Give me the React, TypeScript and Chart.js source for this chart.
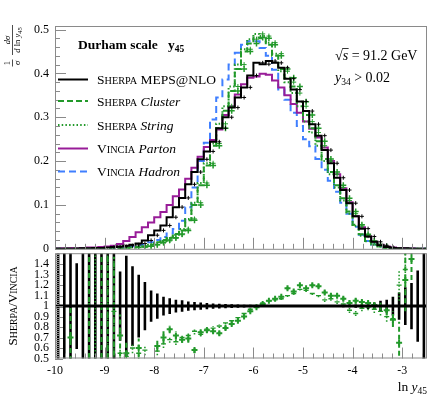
import React, { useEffect, useRef } from "react";
import { Chart, registerables } from "chart.js";

Chart.register(...registerables);

// ---------- axes ----------
const X_MIN = -10;
const X_MAX = -2.5;
const X_MINOR = 0.2;
const X_TICKS = [-10, -9, -8, -7, -6, -5, -4, -3];
const MAIN_Y_MAX = 0.508;
const MAIN_Y_TICKS = [0, 0.1, 0.2, 0.3, 0.4, 0.5];
const MAIN_Y_MINOR = 0.02;
const RATIO_MIN = 0.5;
const RATIO_MAX = 1.505;
const RATIO_Y_TICKS = [0.5, 0.6, 0.7, 0.8, 0.9, 1, 1.1, 1.2, 1.3, 1.4];
const RATIO_Y_MINOR = 0.02;
const RATIO_REF = 1;

// ---------- binning ----------
const BIN_LO = -10;
const BIN_W = 0.125;

// ---------- main panel: 1/sigma dsigma/dln y45 ----------
const sherpaMepsNlo = [
  0.000, 0.000, 0.000, 0.000, 0.000, 0.001, 0.001, 0.002, 0.002, 0.003,
  0.004, 0.005, 0.007, 0.009, 0.012, 0.019, 0.031, 0.042, 0.053, 0.072,
  0.095, 0.116, 0.147, 0.175, 0.204, 0.222, 0.244, 0.275, 0.300, 0.322,
  0.345, 0.368, 0.395, 0.424, 0.421, 0.428, 0.424, 0.413, 0.388, 0.363,
  0.336, 0.314, 0.284, 0.258, 0.225, 0.195, 0.162, 0.134, 0.104, 0.074,
  0.046, 0.028, 0.016, 0.008, 0.004, 0.002, 0.001, 0.001, 0.000, 0.000,
];
const sherpaCluster = [
  0.000, 0.000, 0.000, 0.000, 0.000, 0.000, 0.000, 0.000, 0.000, 0.000,
  0.001, 0.001, 0.002, 0.003, 0.004, 0.006, 0.009, 0.015, 0.020, 0.025,
  0.034, 0.042, 0.065, 0.100, 0.145, 0.190, 0.235, 0.275, 0.315, 0.360,
  0.410, 0.450, 0.468, 0.482, 0.480, 0.465, 0.440, 0.410, 0.390, 0.370,
  0.335, 0.305, 0.275, 0.245, 0.205, 0.175, 0.145, 0.115, 0.085, 0.055,
  0.033, 0.018, 0.010, 0.005, 0.002, 0.001, 0.000, 0.000, 0.000, 0.000,
];
const sherpaString = [
  0.000, 0.000, 0.000, 0.000, 0.000, 0.000, 0.000, 0.000, 0.000, 0.000,
  0.001, 0.001, 0.002, 0.003, 0.004, 0.006, 0.009, 0.013, 0.018, 0.024,
  0.032, 0.045, 0.068, 0.105, 0.150, 0.195, 0.240, 0.285, 0.325, 0.370,
  0.420, 0.455, 0.478, 0.490, 0.485, 0.470, 0.445, 0.405, 0.380, 0.355,
  0.325, 0.290, 0.265, 0.235, 0.200, 0.170, 0.140, 0.110, 0.080, 0.052,
  0.030, 0.017, 0.009, 0.005, 0.002, 0.001, 0.000, 0.000, 0.000, 0.000,
];
const vinciaParton = [
  0.001, 0.001, 0.001, 0.002, 0.002, 0.002, 0.003, 0.003, 0.004, 0.005,
  0.007, 0.011, 0.018, 0.027, 0.038, 0.049, 0.060, 0.072, 0.084, 0.100,
  0.120, 0.135, 0.160, 0.185, 0.210, 0.232, 0.248, 0.272, 0.305, 0.325,
  0.352, 0.375, 0.390, 0.393, 0.399, 0.397, 0.384, 0.368, 0.350, 0.330,
  0.310, 0.290, 0.274, 0.254, 0.231, 0.200, 0.170, 0.138, 0.106, 0.074,
  0.049, 0.028, 0.016, 0.009, 0.005, 0.003, 0.002, 0.001, 0.001, 0.000,
];
const vinciaHadron = [
  0.000, 0.000, 0.000, 0.000, 0.000, 0.001, 0.001, 0.001, 0.001, 0.002,
  0.002, 0.003, 0.004, 0.006, 0.008, 0.010, 0.015, 0.020, 0.027, 0.035,
  0.045, 0.064, 0.095, 0.140, 0.200, 0.242, 0.295, 0.345, 0.386, 0.420,
  0.447, 0.465, 0.473, 0.473, 0.458, 0.440, 0.408, 0.363, 0.340, 0.310,
  0.280, 0.250, 0.234, 0.205, 0.180, 0.155, 0.130, 0.105, 0.080, 0.050,
  0.032, 0.018, 0.010, 0.006, 0.003, 0.002, 0.001, 0.000, 0.000, 0.000,
];

// ---------- ratio panel: Sherpa / Vincia ----------
const ratioMepsErr = [
  0.7, 0.7, 0.7, 0.41, 0.7, 0.7, 0.7, 0.7, 0.7, 0.7,
  0.33, 0.48, 0.38, 0.30, 0.23, 0.15, 0.12, 0.09, 0.075, 0.06,
  0.055, 0.045, 0.04, 0.035, 0.03, 0.025, 0.022, 0.02, 0.017, 0.015,
  0.013, 0.012, 0.01, 0.008, 0.007, 0.006, 0.006, 0.006, 0.006, 0.006,
  0.006, 0.006, 0.006, 0.007, 0.007, 0.008, 0.01, 0.012, 0.015, 0.018,
  0.028, 0.035, 0.05, 0.06, 0.09, 0.13, 0.18, 0.22, 0.34, 0.7,
];
const ratioCluster = [
  null, null, 0.7, null, null, 1.0, null, 1.0, 1.0, 1.0,
  0.72, 0.55, null, 0.6, null, null, 0.62, 0.7, 0.78, 0.72,
  0.68, 0.69, 0.58, 0.75, 0.77, 0.76, 0.74, 0.79, 0.83, 0.86,
  0.9, 0.95, 0.99, 1.02, 1.05, 1.07, 1.09, 1.17, 1.14, 1.2,
  1.17, 1.2, 1.19, 1.13, 1.1, 1.1, 1.07, 1.03, 1.05, 1.04,
  1.03, 1.01, 1.0, 0.96, 0.87, 0.65, 1.25, 1.45, null, null,
];
const ratioClusterErr = [
  0, 0, 0.3, 0, 0, 0.8, 0, 0.8, 0.8, 0.47,
  0.2, 0.1, 0, 0.09, 0, 0, 0.05, 0.06, 0.04, 0.04,
  0.03, 0.04, 0.03, 0.03, 0.025, 0.02, 0.02, 0.02, 0.015, 0.015,
  0.015, 0.012, 0.01, 0.01, 0.01, 0.01, 0.01, 0.015, 0.015, 0.015,
  0.015, 0.015, 0.02, 0.02, 0.02, 0.02, 0.02, 0.025, 0.025, 0.03,
  0.03, 0.035, 0.04, 0.05, 0.07, 0.2, 0.3, 0.2, 0, 0,
];
const ratioString = [
  null, null, null, null, null, null, 1.0, null, 1.0, 0.95,
  0.55, 0.52, 0.6, 0.55, 0.58, null, 0.57, 0.64, 0.68, 0.66,
  0.7, 0.72, 0.76, 0.73, 0.78, 0.79, 0.81, 0.84, 0.86, 0.89,
  0.93, 0.97, 1.0, 1.03, 1.05, 1.06, 1.07, 1.1, 1.12, 1.16,
  1.15, 1.12, 1.1, 1.06, 1.07, 1.04, 1.02, 0.96, 0.93, 0.98,
  0.99, 0.97, 0.95, 0.9, 0.88, 1.2, 1.35, null, null, null,
];
const ratioStringErr = [
  0, 0, 0, 0, 0, 0, 0.9, 0, 0.9, 0.5,
  0.08, 0.05, 0.05, 0.06, 0.05, 0, 0.04, 0.04, 0.03, 0.03,
  0.03, 0.03, 0.03, 0.02, 0.02, 0.02, 0.02, 0.015, 0.015, 0.012,
  0.012, 0.01, 0.01, 0.01, 0.01, 0.01, 0.01, 0.012, 0.012, 0.012,
  0.015, 0.015, 0.015, 0.02, 0.02, 0.02, 0.02, 0.025, 0.025, 0.03,
  0.03, 0.035, 0.04, 0.05, 0.07, 0.15, 0.2, 0, 0, 0,
];

// ---------- styles ----------
const C_BLACK = "#000000";
const C_GREEN = "#22992a";
const C_PURPLE = "#981c98";
const C_BLUE = "#3f7fff";
const FRAME = "#8a8a8a";
const DASH_CLUSTER = [6, 3];
const DASH_STRING = [1.5, 2.2];
const DASH_HADRON = [7, 4];
const SERIF = '"Liberation Serif", "Times New Roman", serif';
const fnt = (size: number, style = "") => `${style} ${size}px ${SERIF}`.trim();

// ---------- helpers building library data ----------
const binCenter = (i: number) => BIN_LO + BIN_W * (i + 0.5);
function stepPoints(vals: number[]) {
  const pts = vals.map((v, i) => ({ x: BIN_LO + BIN_W * i, y: v }));
  pts.push({ x: BIN_LO + BIN_W * vals.length, y: vals[vals.length - 1] });
  return pts;
}
function markerPoints(vals: (number | null)[], minVal: number) {
  const pts: any[] = [];
  vals.forEach((v, i) => {
    if (v != null && v > minVal) pts.push({ x: binCenter(i), y: v });
  });
  return pts;
}
function errPoints(vals: (number | null)[], errs: number[]) {
  const pts: any[] = [];
  vals.forEach((v, i) => {
    if (v == null || !errs[i]) return;
    const c = binCenter(i);
    pts.push({ x: c, y: v - errs[i] }, { x: c, y: v + errs[i] }, { x: c, y: null });
  });
  return pts;
}

type Part = { t: string; font: string; dy?: number };
function drawParts(ctx: CanvasRenderingContext2D, x: number, y: number, parts: Part[], align = "left") {
  let w = 0;
  parts.forEach((p) => {
    ctx.font = p.font;
    w += ctx.measureText(p.t).width;
  });
  let cx = align === "right" ? x - w : align === "center" ? x - w / 2 : x;
  const starts: number[] = [];
  parts.forEach((p) => {
    ctx.font = p.font;
    starts.push(cx);
    ctx.fillText(p.t, cx, y + (p.dy || 0));
    cx += ctx.measureText(p.t).width;
  });
  return starts;
}
function smallCaps(word: string, size: number): Part[] {
  return [
    { t: word[0].toUpperCase(), font: fnt(size) },
    { t: word.slice(1).toUpperCase(), font: fnt(size * 0.76) },
  ];
}

function drawXTicks(ctx: CanvasRenderingContext2D, xs: any, yBase: number) {
  ctx.beginPath();
  X_TICKS.forEach((v) => {
    const p = Math.round(xs.getPixelForValue(v)) + 0.5;
    ctx.moveTo(p, yBase);
    ctx.lineTo(p, yBase - 11);
  });
  for (let k = Math.ceil(X_MIN / X_MINOR - 1e-9); k * X_MINOR <= X_MAX + 1e-9; k++) {
    const v = k * X_MINOR;
    if (X_TICKS.some((m) => Math.abs(m - v) < 1e-6)) continue;
    const p = Math.round(xs.getPixelForValue(v)) + 0.5;
    ctx.moveTo(p, yBase);
    ctx.lineTo(p, yBase - 5);
  }
  ctx.stroke();
}
function drawYTicks(ctx: CanvasRenderingContext2D, ys: any, xBase: number, majors: number[], minor: number, lo: number, hi: number, majLen: number, minLen: number) {
  ctx.beginPath();
  majors.forEach((v) => {
    const p = Math.round(ys.getPixelForValue(v)) + 0.5;
    ctx.moveTo(xBase, p);
    ctx.lineTo(xBase + majLen, p);
  });
  for (let k = Math.ceil(lo / minor - 1e-9); k * minor <= hi + 1e-9; k++) {
    const v = k * minor;
    if (majors.some((m) => Math.abs(m - v) < 1e-6)) continue;
    const p = Math.round(ys.getPixelForValue(v)) + 0.5;
    ctx.moveTo(xBase, p);
    ctx.lineTo(xBase + minLen, p);
  }
  ctx.stroke();
}

const LEGEND = [
  { name: "Sherpa", rest: "MEPS@NLO", italic: false, color: C_BLACK, dash: [] as number[] },
  { name: "Sherpa", rest: "Cluster", italic: true, color: C_GREEN, dash: DASH_CLUSTER },
  { name: "Sherpa", rest: "String", italic: true, color: C_GREEN, dash: DASH_STRING },
  { name: "Vincia", rest: "Parton", italic: true, color: C_PURPLE, dash: [] as number[] },
  { name: "Vincia", rest: "Hadron", italic: true, color: C_BLUE, dash: DASH_HADRON },
];
const LEGEND_LINE_Y = [79.5, 101, 125, 148.5, 171.5];
const LEGEND_TEXT_Y = [84, 106, 129.5, 152.5, 176];

const mainDecor = {
  id: "mainDecor",
  afterDraw(chart: any) {
    const { ctx, chartArea: a, scales } = chart;
    ctx.save();
    ctx.strokeStyle = FRAME;
    ctx.lineWidth = 1;
    ctx.strokeRect(a.left + 0.5, a.top + 0.5, a.right - a.left - 1, a.bottom - a.top);
    drawXTicks(ctx, scales.x, a.bottom);
    drawYTicks(ctx, scales.y, a.left, MAIN_Y_TICKS, MAIN_Y_MINOR, 0, 0.5, 11, 5);

    ctx.fillStyle = "#000";
    ctx.textBaseline = "alphabetic";
    ctx.textAlign = "left";
    // title
    drawParts(ctx, 78, 48.5, [{ t: "Durham scale", font: fnt(13.5, "bold") }]);
    drawParts(ctx, 168, 48.5, [
      { t: "y", font: fnt(13.5, "bold") },
      { t: "45", font: fnt(9.5, "bold"), dy: 3 },
    ]);
    // sqrt(s)
    const st = drawParts(ctx, 335, 60, [
      { t: "√", font: fnt(14) },
      { t: "s", font: fnt(14, "italic") },
      { t: " = 91.2 GeV", font: fnt(14) },
    ]);
    ctx.strokeStyle = "#000";
    ctx.lineWidth = 0.8;
    ctx.beginPath();
    ctx.moveTo(st[1] - 0.5, 48.5);
    ctx.lineTo(st[2] + 0.5, 48.5);
    ctx.stroke();
    drawParts(ctx, 335, 82, [
      { t: "y", font: fnt(14, "italic") },
      { t: "34", font: fnt(9.5), dy: 3 },
      { t: " > 0.02", font: fnt(14) },
    ]);

    // legend
    LEGEND.forEach((e, i) => {
      ctx.strokeStyle = e.color;
      ctx.lineWidth = 2;
      ctx.setLineDash(e.dash);
      ctx.beginPath();
      ctx.moveTo(58, LEGEND_LINE_Y[i]);
      ctx.lineTo(88, LEGEND_LINE_Y[i]);
      ctx.stroke();
      ctx.setLineDash([]);
      drawParts(ctx, 97, LEGEND_TEXT_Y[i], [
        ...smallCaps(e.name, 13.5),
        { t: " " + e.rest, font: fnt(13.5, e.italic ? "italic" : "") },
      ]);
    });

    // y-axis label (rotated fraction)
    ctx.save();
    ctx.translate(12, 66);
    ctx.rotate(-Math.PI / 2);
    ctx.fillStyle = "#000";
    ctx.textAlign = "left";
    drawParts(ctx, 3, -2, [{ t: "1", font: fnt(8.5) }], "center");
    drawParts(ctx, 3, 8, [{ t: "σ", font: fnt(8.5, "italic") }], "center");
    drawParts(ctx, 26, -2, [{ t: "dσ", font: fnt(8.5, "italic") }], "center");
    drawParts(ctx, 26, 8, [
      { t: "d", font: fnt(8.5, "italic") },
      { t: " ln ", font: fnt(8.5) },
      { t: "y", font: fnt(8.5, "italic") },
      { t: "45", font: fnt(6.5), dy: 2 },
    ], "center");
    ctx.strokeStyle = "#000";
    ctx.lineWidth = 0.7;
    ctx.beginPath();
    ctx.moveTo(-0.5, 0.5);
    ctx.lineTo(6.5, 0.5);
    ctx.moveTo(11, 0.5);
    ctx.lineTo(41, 0.5);
    ctx.stroke();
    ctx.restore();
    ctx.restore();
  },
};

const ratioDecor = {
  id: "ratioDecor",
  afterDraw(chart: any) {
    const { ctx, chartArea: a, scales } = chart;
    ctx.save();
    ctx.strokeStyle = FRAME;
    ctx.lineWidth = 1;
    ctx.strokeRect(a.left + 0.5, a.top + 0.5, a.right - a.left - 1, a.bottom - a.top - 1);
    drawXTicks(ctx, scales.x, a.bottom);
    drawYTicks(ctx, scales.y, a.left, RATIO_Y_TICKS, RATIO_Y_MINOR, RATIO_MIN, 1.5, 8, 4);

    ctx.fillStyle = "#000";
    ctx.textBaseline = "alphabetic";
    // rotated y label
    ctx.save();
    ctx.translate(17, (a.top + a.bottom) / 2);
    ctx.rotate(-Math.PI / 2);
    drawParts(ctx, 0, 0, [...smallCaps("Sherpa", 13), { t: "/", font: fnt(13) }, ...smallCaps("Vincia", 13)], "center");
    ctx.restore();
    // x title
    drawParts(ctx, a.right, a.bottom + 32, [
      { t: "ln ", font: fnt(13.5) },
      { t: "y", font: fnt(13.5, "italic") },
      { t: "45", font: fnt(9.5), dy: 3 },
    ], "right");
    ctx.restore();
  },
};

const histo = (vals: number[], color: string, dash: number[], order: number) => ({
  data: stepPoints(vals),
  borderColor: color,
  borderWidth: 2,
  borderDash: dash,
  stepped: "after",
  pointRadius: 0,
  fill: false,
  order,
});
const marks = (vals: (number | null)[], color: string, style: string, radius: number, width: number, order: number) => ({
  data: markerPoints(vals, 0.0025),
  showLine: false,
  pointStyle: style,
  pointRadius: radius,
  pointBorderColor: color,
  pointBorderWidth: width,
  borderColor: color,
  order,
});
const errBars = (vals: (number | null)[], errs: number[], color: string, width: number, dash: number[], order: number) => ({
  data: errPoints(vals, errs),
  borderColor: color,
  borderWidth: width,
  borderDash: dash,
  pointRadius: 0,
  spanGaps: false,
  fill: false,
  order,
});

const yWidth = (s: any) => {
  s.width = 45;
};

export default function App() {
  const mainRef = useRef<HTMLCanvasElement>(null);
  const ratioRef = useRef<HTMLCanvasElement>(null);

  useEffect(() => {
    document.body.style.margin = "0";
    const mainChart = new Chart(mainRef.current as HTMLCanvasElement, {
      type: "line",
      data: {
        datasets: [
          histo(sherpaMepsNlo, C_BLACK, [], 1),
          marks(sherpaMepsNlo, C_BLACK, "cross", 2, 1, 0),
          histo(sherpaCluster, C_GREEN, DASH_CLUSTER, 3),
          marks(sherpaCluster, C_GREEN, "cross", 3, 1.5, 2),
          histo(sherpaString, C_GREEN, DASH_STRING, 5),
          marks(sherpaString, C_GREEN, "cross", 2.5, 1, 4),
          histo(vinciaParton, C_PURPLE, [], 6),
          histo(vinciaHadron, C_BLUE, DASH_HADRON, 7),
        ] as any,
      },
      options: {
        animation: false,
        responsive: false,
        events: [],
        layout: { padding: { left: 10, right: 14, top: 26, bottom: 12 } },
        plugins: { legend: { display: false }, tooltip: { enabled: false } },
        scales: {
          x: { type: "linear", min: X_MIN, max: X_MAX, display: false },
          y: {
            type: "linear",
            min: 0,
            max: MAIN_Y_MAX,
            afterBuildTicks: (s: any) => {
              s.ticks = MAIN_Y_TICKS.map((v) => ({ value: v }));
            },
            afterFit: yWidth,
            grid: { display: false, drawTicks: false },
            border: { display: false },
            ticks: {
              padding: 6,
              color: "#000",
              font: { family: SERIF, size: 12 },
              callback: (v: any) => String(+Number(v).toFixed(2)),
            },
          },
        },
      } as any,
      plugins: [mainDecor],
    });

    const ratioChart = new Chart(ratioRef.current as HTMLCanvasElement, {
      type: "line",
      data: {
        datasets: [
          {
            data: [
              { x: X_MIN, y: RATIO_REF },
              { x: X_MAX, y: RATIO_REF },
            ],
            borderColor: C_BLACK,
            borderWidth: 3,
            pointRadius: 0,
            order: 0,
          },
          errBars(sherpaMepsNlo.map(() => RATIO_REF), ratioMepsErr, C_BLACK, 2.6, [], 6),
          errBars(ratioCluster, ratioClusterErr, C_GREEN, 2, [5, 3], 3),
          marks(ratioCluster, C_GREEN, "cross", 3, 2, 2),
          errBars(ratioString, ratioStringErr, C_GREEN, 1.6, [1.5, 2], 5),
          marks(ratioString, C_GREEN, "line", 2.5, 1.4, 4),
        ] as any,
      },
      options: {
        animation: false,
        responsive: false,
        events: [],
        layout: { padding: { left: 10, right: 14, top: 10, bottom: 11.5 } },
        plugins: { legend: { display: false }, tooltip: { enabled: false } },
        scales: {
          x: {
            type: "linear",
            min: X_MIN,
            max: X_MAX,
            afterBuildTicks: (s: any) => {
              s.ticks = X_TICKS.map((v) => ({ value: v }));
            },
            afterFit: (s: any) => {
              s.height = 28;
            },
            grid: { display: false, drawTicks: false },
            border: { display: false },
            ticks: {
              padding: 5,
              color: "#000",
              maxRotation: 0,
              autoSkip: false,
              font: { family: SERIF, size: 12 },
              callback: (v: any) => String(+Number(v).toFixed(2)),
            },
          },
          y: {
            type: "linear",
            min: RATIO_MIN,
            max: RATIO_MAX,
            afterBuildTicks: (s: any) => {
              s.ticks = RATIO_Y_TICKS.map((v) => ({ value: v }));
            },
            afterFit: yWidth,
            grid: { display: false, drawTicks: false },
            border: { display: false },
            ticks: {
              padding: 6,
              color: "#000",
              autoSkip: false,
              font: { family: SERIF, size: 12 },
              callback: (v: any) => String(+Number(v).toFixed(2)),
            },
          },
        },
      } as any,
      plugins: [ratioDecor],
    });

    return () => {
      mainChart.destroy();
      ratioChart.destroy();
    };
  }, []);

  return (
    <div style={{ position: "relative", width: 441, height: 398, background: "#fff" }}>
      <canvas ref={mainRef} width={441} height={262} style={{ position: "absolute", left: 0, top: 0 }} />
      <canvas ref={ratioRef} width={441} height={158} style={{ position: "absolute", left: 0, top: 240 }} />
    </div>
  );
}
